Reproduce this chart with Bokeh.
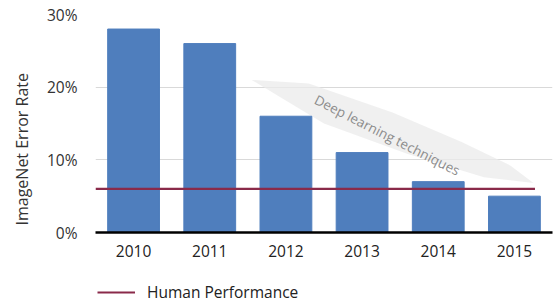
from bokeh.plotting import figure
from bokeh.layouts import column
from bokeh.models import (Range1d, FixedTicker, PrintfTickFormatter, Title, Legend, LegendItem)
from bokeh.embed import file_html
from bokeh.resources import INLINE
from bokeh.core.properties import value

years = [2010, 2011, 2012, 2013, 2014, 2015]
error_rate = [28, 26, 16, 11, 7, 5]
human_performance = 6
y_ticks = [0, 10, 20, 30]
band_x = [2011.55, 2012.3, 2013.4, 2014.3, 2014.95, 2015.25, 2014.6, 2013.6, 2012.5, 2011.9]
band_y = [21.0, 20.5, 16.5, 12.5, 9.2, 6.8, 7.6, 10.8, 15.0, 18.8]

FONT = "Open Sans"

p = figure(width=555, height=270, output_backend="svg", toolbar_location=None,
           x_range=Range1d(2009.5, 2015.5), y_range=Range1d(0, 30),
           min_border_left=95, min_border_right=3, min_border_top=14,
           min_border_bottom=38)
p.outline_line_color = None
p.background_fill_color = "white"

# decorative band behind annotation
p.patch(band_x, band_y, fill_color="#ebebeb", fill_alpha=0.75, line_color=None)

p.vbar(x=years, top=error_rate, width=0.68, color="#4f7ebd")

hline = p.line(x=[2009.5, 2015.27], y=[human_performance, human_performance],
               line_color="#8a2a4a", line_width=2.2)

p.text(x=[2013.33], y=[13.4], text=["Deep learning techniques"], angle=-0.47,
       text_align="center", text_baseline="middle", text_color="#8c8c8c",
       text_font=value(FONT), text_font_size="13.5px")

# axes
p.xaxis.ticker = FixedTicker(ticks=years)
p.xaxis.axis_line_color = "black"
p.xaxis.axis_line_width = 2.5
p.xaxis.major_tick_line_color = None
p.xaxis.minor_tick_line_color = None
p.xaxis.major_label_standoff = 6
p.xaxis.major_label_text_font = FONT
p.xaxis.major_label_text_font_size = "15.5px"
p.xaxis.major_label_text_color = "#222222"

p.yaxis.ticker = FixedTicker(ticks=y_ticks)
p.yaxis.formatter = PrintfTickFormatter(format="%d%%")
p.yaxis.axis_line_color = None
p.yaxis.major_tick_line_color = None
p.yaxis.minor_tick_line_color = None
p.yaxis.major_label_standoff = 12
p.yaxis.major_label_text_font = FONT
p.yaxis.major_label_text_font_size = "15.5px"
p.yaxis.major_label_text_color = "#333333"

p.xgrid.grid_line_color = None
p.ygrid.ticker = FixedTicker(ticks=[10, 20, 30])
p.ygrid.grid_line_color = "#d9d9d9"
p.ygrid.grid_line_width = 1

ytitle = Title(text="ImageNet Error Rate", align="left", offset=7, standoff=18,
               vertical_align="top",
               text_font=FONT, text_font_size="16px", text_font_style="normal",
               text_color="#333333")
p.add_layout(ytitle, "left")

# legend strip
lg = figure(width=555, height=33, output_backend="svg", toolbar_location=None,
            x_range=Range1d(0, 1), y_range=Range1d(0, 1),
            min_border_left=0, min_border_right=0, min_border_top=0, min_border_bottom=0)
lg.outline_line_color = None
lg.axis.visible = False
lg.grid.visible = False
lr = lg.line(x=[0, 1], y=[human_performance, human_performance],
             line_color="#8a2a4a", line_width=2.2)
legend = Legend(items=[LegendItem(label="Human Performance", renderers=[lr])],
                location=(2, 0), orientation="horizontal", glyph_width=38,
                label_standoff=12, border_line_color=None, background_fill_alpha=0,
                padding=0, margin=0, spacing=0,
                label_text_font=FONT, label_text_font_size="15.5px",
                label_text_color="#222222")
lg.add_layout(legend)

layout = column(p, lg, spacing=0)
open("out.html", "w").write(file_html(layout, INLINE))
